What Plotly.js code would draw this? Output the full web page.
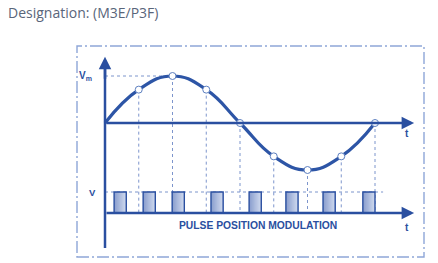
<!DOCTYPE html>
<html>
<head>
<meta charset="utf-8">
<script src="https://cdn.plot.ly/plotly-3.0.1.min.js"></script>
<style>html,body{margin:0;padding:0;background:#fff;}#chart{width:438px;height:263px;}</style>
</head>
<body>
<div id="chart"></div>
<script>
// ---- data (time in sampling periods, amplitude in units of Vm) ----
var sampleTimes  = [0, 1, 2, 3, 4, 5, 6, 7, 8];
var sampleValues = [0, 0.71, 1, 0.71, 0, -0.71, -1, -0.71, 0];
var pulseStarts  = [0.27, 1.13, 1.99, 3.14, 4.27, 5.36, 6.46, 7.64];
var pulseWidth   = 0.36;
var titleText    = "Designation: (M3E/P3F)";
var peakLabel    = "V<sub>m</sub>";
var pulseLabel   = "V";
var timeLabel    = "t";
var ppmLabel     = "PULSE POSITION MODULATION";

// ---- layout constants ----
var pulseBase = -1.915, pulseTop = -1.468;
var axisEnd = 9.16, yAxisTop = 1.41, yAxisBottom = -2.66, vLineEnd = 8.24;
var blue = "#2a4fa0", dotBlue = "#7d95cc", borderBlue = "#8ea6d8";

var traces = [];
// gradient-filled pulses: layered strips, each reaching the right edge of the pulse
var nStrips = 10;
var c0 = [140, 160, 206], c1 = [206, 216, 238];
for (var s = 0; s < nStrips; s++) {
  var f = s / (nStrips - 1);
  var col = "rgb(" + c0.map(function (v, k) { return Math.round(v + (c1[k] - v) * f); }).join(",") + ")";
  var off = pulseWidth * s / nStrips;
  var w = pulseWidth - off;
  traces.push({
    type: "bar",
    x: pulseStarts.map(function (p) { return p + off + w / 2; }),
    y: pulseStarts.map(function () { return pulseTop - pulseBase; }),
    base: pulseBase,
    width: w,
    marker: {color: col, line: {width: 0}},
    hoverinfo: "skip", showlegend: false
  });
}
// pulse outlines
traces.push({
  type: "bar",
  x: pulseStarts.map(function (p) { return p + pulseWidth / 2; }),
  y: pulseStarts.map(function () { return pulseTop - pulseBase; }),
  base: pulseBase,
  width: pulseWidth,
  marker: {color: "rgba(0,0,0,0)", line: {color: blue, width: 1.4}},
  hoverinfo: "skip", showlegend: false
});
// sine wave
traces.push({
  type: "scatter", mode: "lines",
  x: sampleTimes, y: sampleValues,
  line: {color: "#2d55a6", width: 3.2, shape: "spline", smoothing: 1.3},
  hoverinfo: "skip", showlegend: false
});
// sample points
traces.push({
  type: "scatter", mode: "markers",
  x: sampleTimes.slice(1), y: sampleValues.slice(1),
  marker: {size: 7, color: "#ffffff", line: {color: "#5d7fc0", width: 1}},
  hoverinfo: "skip", showlegend: false
});

var shapes = [];
// vertical dotted lines from samples down to the pulse axis
sampleTimes.slice(1).forEach(function (t, i) {
  shapes.push({type: "line", xref: "x", yref: "y", x0: t, x1: t, y0: sampleValues[i + 1], y1: pulseBase,
    line: {color: dotBlue, width: 1, dash: "dot"}, layer: "below"});
});
// Vm and V dotted level lines
shapes.push({type: "line", xref: "x", yref: "y", x0: 0, x1: sampleTimes[2], y0: 1, y1: 1,
  line: {color: dotBlue, width: 1, dash: "dot"}, layer: "below"});
shapes.push({type: "line", xref: "x", yref: "y", x0: 0, x1: vLineEnd, y0: pulseTop, y1: pulseTop,
  line: {color: dotBlue, width: 1, dash: "dot"}, layer: "below"});
// vertical axis line
shapes.push({type: "line", xref: "x", yref: "y", x0: 0, x1: 0, y0: yAxisBottom, y1: yAxisTop - 0.1,
  line: {color: blue, width: 2.5}});
// dash-dot border
shapes.push({type: "rect", xref: "paper", yref: "paper", x0: 77 / 438, x1: 424 / 438, y0: 1 - 257 / 263, y1: 1 - 46 / 263,
  line: {color: borderBlue, width: 1.4, dash: "12px,3px,2px,3px"}, layer: "below"});

var arrowStyle = {xref: "x", yref: "y", axref: "x", ayref: "y", text: "", showarrow: true,
  arrowhead: 2, arrowsize: 1, arrowwidth: 2.5, arrowcolor: blue};
function arrow(x, y, ax, ay) {
  var a = {x: x, y: y, ax: ax, ay: ay};
  for (var k in arrowStyle) a[k] = arrowStyle[k];
  return a;
}

var annotations = [
  arrow(axisEnd, 0, 0, 0),
  arrow(axisEnd, pulseBase, 0, pulseBase),
  arrow(0, yAxisTop, 0, yAxisTop - 0.5),
  // labels
  {x: -0.33, y: 1, xref: "x", yref: "y", text: "<b>" + peakLabel + "</b>", showarrow: false, xanchor: "right",
   font: {family: "Liberation Sans, Arial", size: 10, color: blue}},
  {x: -0.22, y: pulseTop, xref: "x", yref: "y", text: "<b>" + pulseLabel + "</b>", showarrow: false, xanchor: "right",
   font: {family: "Liberation Sans, Arial", size: 9.5, color: blue}},
  {x: axisEnd - 0.2, y: -0.22, xref: "x", yref: "y", text: "<b>" + timeLabel + "</b>", showarrow: false,
   font: {family: "Liberation Sans, Arial", size: 10, color: blue}},
  {x: axisEnd - 0.2, y: pulseBase - 0.3, xref: "x", yref: "y", text: "<b>" + timeLabel + "</b>", showarrow: false,
   font: {family: "Liberation Sans, Arial", size: 10, color: blue}},
  {x: 4.52, y: pulseBase - 0.26, xref: "x", yref: "y", text: "<b>" + ppmLabel + "</b>", showarrow: false,
   font: {family: "Liberation Sans, Arial", size: 10.3, color: blue}}
];

var layout = {
  width: 438, height: 263,
  margin: {l: 0, r: 0, t: 0, b: 0},
  paper_bgcolor: "#ffffff", plot_bgcolor: "#ffffff",
  barmode: "overlay",
  title: {text: titleText, x: 8 / 438, xanchor: "left", y: 1 - 13 / 263, yanchor: "middle",
          font: {family: "Open Sans", size: 14, color: "#59657a"}},
  xaxis: {range: [-105 / 33.75, (438 - 105) / 33.75], visible: false, fixedrange: true},
  yaxis: {range: [(123 - 263) / 47, 123 / 47], visible: false, fixedrange: true},
  shapes: shapes,
  annotations: annotations
};

Plotly.newPlot("chart", traces, layout, {displayModeBar: false, staticPlot: true});
</script>
</body>
</html>
